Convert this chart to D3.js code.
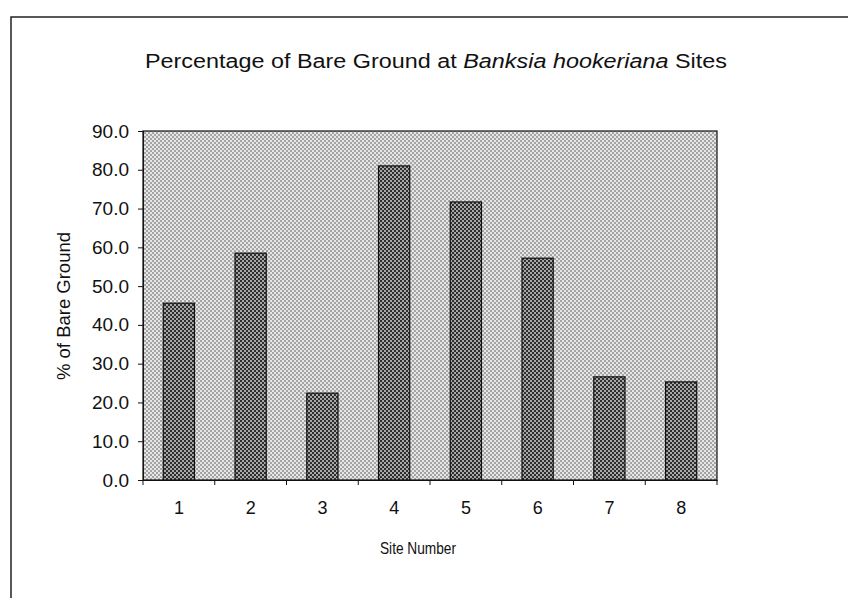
<!DOCTYPE html>
<html lang="en">
<head>
<meta charset="UTF-8">
<title>Percentage of Bare Ground at Banksia hookeriana Sites</title>
<script src="https://d3js.org/d3.v7.min.js"></script>
<style>
  body { margin: 0; background: #fff; font-family: "Liberation Sans", Arial, sans-serif; }
  svg text { fill: #111; }
</style>
</head>
<body>
<svg id="chart" width="848" height="598"></svg>
<script>
// data
const sites = ["1", "2", "3", "4", "5", "6", "7", "8"];
const bareGround = [45.6, 58.5, 22.4, 81.0, 71.7, 57.2, 26.6, 25.3];
const yTicks = [0, 10, 20, 30, 40, 50, 60, 70, 80, 90];

const svg = d3.select("#chart");
const margin = { left: 143, top: 131, right: 717, bottom: 480 };
const fontFam = "Liberation Sans, Arial, sans-serif";

// checker patterns for the plot area and the bars
const defs = svg.append("defs");
function checker(id, light, dark, size) {
  const p = defs.append("pattern")
    .attr("id", id)
    .attr("width", size * 2)
    .attr("height", size * 2)
    .attr("patternUnits", "userSpaceOnUse");
  p.append("rect").attr("width", size * 2).attr("height", size * 2).attr("fill", light);
  p.append("rect").attr("width", size).attr("height", size).attr("fill", dark);
  p.append("rect").attr("x", size).attr("y", size).attr("width", size).attr("height", size).attr("fill", dark);
}
checker("bgPat", "#e6e6e6", "#a4a4a4", 2);
checker("barPat", "#a8a8a8", "#2e2e2e", 2);

// outer chart frame (left + top edges visible)
svg.append("path")
  .attr("d", "M11,598 V17 H848")
  .attr("fill", "none")
  .attr("stroke", "#222")
  .attr("stroke-width", 1.5);

const x = d3.scaleBand()
  .domain(sites)
  .range([margin.left, margin.right])
  .paddingInner(0.565)
  .paddingOuter(0.2825);

const y = d3.scaleLinear()
  .domain([0, 90])
  .range([margin.bottom, margin.top]);

// plot area
svg.append("rect")
  .attr("x", margin.left)
  .attr("y", margin.top)
  .attr("width", margin.right - margin.left)
  .attr("height", margin.bottom - margin.top)
  .attr("fill", "url(#bgPat)")
  .attr("stroke", "#111")
  .attr("stroke-width", 1.2);

// bars
svg.selectAll(".bar")
  .data(bareGround)
  .enter().append("rect")
  .attr("class", "bar")
  .attr("x", (d, i) => x(sites[i]))
  .attr("y", d => y(d))
  .attr("width", x.bandwidth())
  .attr("height", d => y(0) - y(d))
  .attr("fill", "url(#barPat)")
  .attr("stroke", "#111")
  .attr("stroke-width", 1.2);

// y axis
const yAxis = svg.append("g")
  .attr("transform", `translate(${margin.left},0)`)
  .call(d3.axisLeft(y).tickValues(yTicks).tickFormat(d3.format(".1f")).tickSize(5).tickPadding(9));
yAxis.attr("font-size", 19).attr("font-family", fontFam);
yAxis.select(".domain").attr("stroke", "#111");
yAxis.selectAll(".tick line").attr("stroke", "#111");
yAxis.selectAll("text").attr("fill", "#111");

// x axis: ticks sit between categories
const xAxis = svg.append("g")
  .attr("transform", `translate(0,${margin.bottom})`)
  .call(d3.axisBottom(x).tickSize(0).tickPadding(21));
xAxis.attr("font-size", 18).attr("font-family", fontFam);
xAxis.select(".domain").attr("stroke", "#111");
xAxis.selectAll("text").attr("fill", "#111");
const step = x.step();
const bounds = d3.range(sites.length + 1).map(i => margin.left + i * step);
xAxis.selectAll(".sep")
  .data(bounds)
  .enter().append("line")
  .attr("class", "sep")
  .attr("x1", d => d).attr("x2", d => d)
  .attr("y1", 0).attr("y2", 5)
  .attr("stroke", "#111");

// titles
const title = svg.append("text")
  .attr("x", 436)
  .attr("y", 68)
  .attr("text-anchor", "middle")
  .attr("font-size", 20)
  .attr("textLength", 582)
  .attr("lengthAdjust", "spacingAndGlyphs");
title.append("tspan").text("Percentage of Bare Ground at ");
title.append("tspan").attr("font-style", "italic").text("Banksia hookeriana");
title.append("tspan").text(" Sites");

svg.append("text")
  .attr("transform", "translate(70,306) rotate(-90)")
  .attr("text-anchor", "middle")
  .attr("font-size", 18)
  .attr("textLength", 148)
  .attr("lengthAdjust", "spacingAndGlyphs")
  .text("% of Bare Ground");

svg.append("text")
  .attr("x", 418)
  .attr("y", 554)
  .attr("text-anchor", "middle")
  .attr("font-size", 17)
  .attr("textLength", 76)
  .attr("lengthAdjust", "spacingAndGlyphs")
  .text("Site Number");
</script>
</body>
</html>
